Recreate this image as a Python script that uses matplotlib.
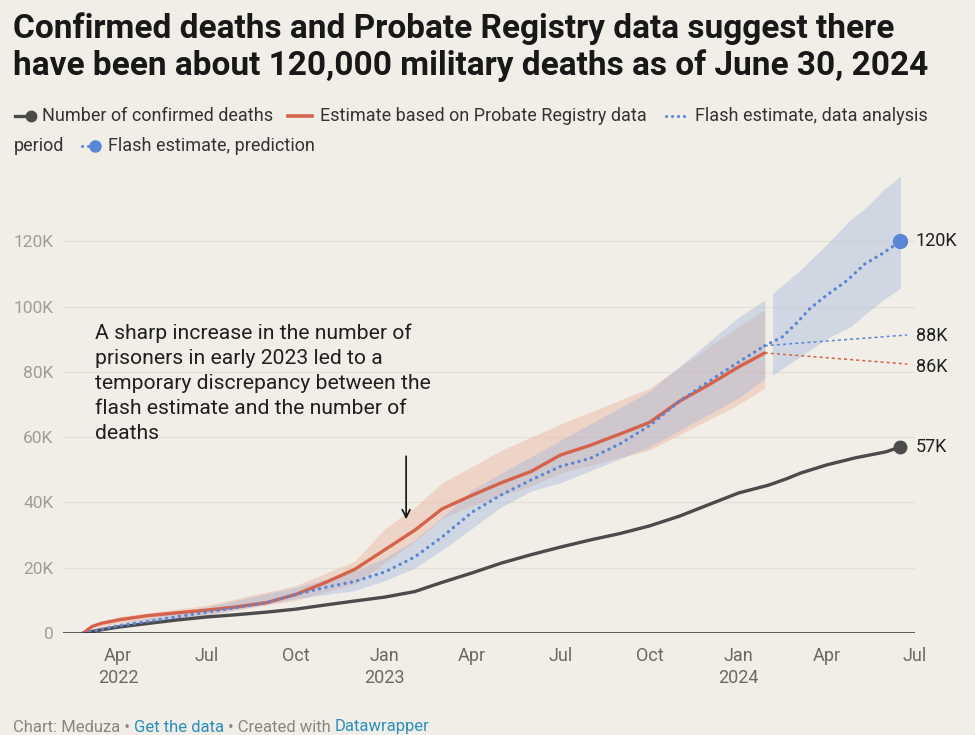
import matplotlib
matplotlib.use("Agg")
import matplotlib.pyplot as plt
import pandas as pd

# ---- data ----
confirmed_dates = ["2022-02-24", "2022-03-15", "2022-04-01", "2022-05-01", "2022-06-01", "2022-07-01",
                   "2022-08-01", "2022-09-01", "2022-10-01", "2022-11-01", "2022-12-01", "2023-01-01",
                   "2023-02-01", "2023-03-01", "2023-04-01", "2023-05-01", "2023-06-01", "2023-07-01",
                   "2023-08-01", "2023-09-01", "2023-10-01", "2023-11-01", "2023-12-01", "2024-01-01",
                   "2024-02-01", "2024-02-20", "2024-03-05", "2024-04-01", "2024-05-01", "2024-06-01",
                   "2024-06-16"]
confirmed_vals = [0, 1000, 1800, 2900, 4000, 4900, 5600, 6400, 7300, 8600, 9800, 11000,
                  12700, 15500, 18400, 21400, 24000, 26300, 28500, 30500, 32800, 35800, 39300, 42900,
                  45300, 47300, 49000, 51500, 53700, 55500, 57000]

probate_dates = ["2022-02-24", "2022-03-05", "2022-03-15", "2022-04-01", "2022-05-01", "2022-06-01",
                 "2022-07-01", "2022-08-01", "2022-09-01", "2022-10-01", "2022-11-01", "2022-12-01",
                 "2023-01-01", "2023-02-01", "2023-03-01", "2023-04-01", "2023-05-01", "2023-06-01",
                 "2023-07-01", "2023-08-01", "2023-09-01", "2023-10-01", "2023-11-01", "2023-12-01",
                 "2024-01-01", "2024-01-28"]
probate_vals = [0, 2000, 3000, 4000, 5300, 6200, 7000, 8000, 9300, 11800, 15500, 19500,
                25500, 31500, 38000, 42200, 46000, 49500, 54500, 57500, 61000, 64500, 71000, 76000,
                81500, 85800]

flash_dates = ["2022-02-24", "2022-04-01", "2022-05-01", "2022-06-01", "2022-07-01", "2022-08-01",
               "2022-09-01", "2022-10-01", "2022-11-01", "2022-12-01", "2023-01-01", "2023-02-01",
               "2023-03-01", "2023-04-01", "2023-05-01", "2023-06-01", "2023-07-01", "2023-08-01",
               "2023-09-01", "2023-10-01", "2023-11-01", "2023-12-01", "2024-01-01", "2024-01-28"]
flash_vals = [0, 2200, 3500, 5000, 6400, 7800, 9300, 11800, 14000, 15800, 18700, 23300,
              29400, 37000, 42300, 46900, 51000, 53500, 58000, 63500, 71000, 77000, 83000, 88000]

pred_dates = ["2024-01-28", "2024-02-15", "2024-03-01", "2024-03-15", "2024-04-01", "2024-04-22",
              "2024-05-10", "2024-05-27", "2024-06-16"]
pred_vals = [88000, 90700, 95000, 99500, 103500, 108000, 113000, 116000, 120000]

band_dates = ["2022-02-24", "2022-04-01", "2022-07-01", "2022-10-01", "2022-12-01", "2023-01-01",
              "2023-02-01", "2023-03-01", "2023-04-01", "2023-05-01", "2023-06-01", "2023-07-01",
              "2023-10-01", "2024-01-01", "2024-01-28"]
flash_lo = [0, 1500, 5500, 10500, 13000, 16000, 19900, 25400, 32000, 38600, 43500, 46000, 57000, 72000, 78000]
flash_hi = [0, 3000, 8000, 14000, 19000, 23000, 28500, 35500, 43800, 49000, 54000, 59000, 74000, 96800, 102000]
probate_lo = [0, 3000, 5500, 10000, 15000, 21500, 28000, 35000, 39000, 42000, 45000, 49000, 56000, 70000, 75000]
probate_hi = [0, 5000, 8500, 14500, 22000, 32000, 38500, 46000, 51000, 56000, 60000, 64000, 75000, 94000, 99000]

pred_band_dates = ["2024-02-05", "2024-03-04", "2024-04-04", "2024-04-25", "2024-05-12", "2024-05-29", "2024-06-16"]
pred_lo = [79000, 84500, 90700, 93700, 98000, 102000, 105700]
pred_hi = [104000, 111000, 120000, 126500, 130500, 135700, 140000]

y_ticks = [0, 20000, 40000, 60000, 80000, 100000, 120000]
y_labels = ["0", "20K", "40K", "60K", "80K", "100K", "120K"]
x_ticks = ["2022-04-01", "2022-07-01", "2022-10-01", "2023-01-01", "2023-04-01", "2023-07-01",
           "2023-10-01", "2024-01-01", "2024-04-01", "2024-07-01"]
x_labels = ["Apr\n2022", "Jul", "Oct", "Jan\n2023", "Apr", "Jul", "Oct", "Jan\n2024", "Apr", "Jul"]

# ---- style ----
BG = "#f1eee8"
C_BLACK = "#4b4b4b"
C_ORANGE = "#d5624a"
C_BLUE = "#5a86d5"
DOTS = (0, (0.05, 1.9))
plt.rcParams["font.family"] = ["Roboto", "DejaVu Sans"]

W, H = 975, 735
fig = plt.figure(figsize=(W / 100, H / 100), dpi=100, facecolor=BG)


def fx(x):
    return x / W


def fy(y):
    return 1 - y / H


ax = fig.add_axes([fx(63), fy(633), fx(915) - fx(63), fy(176) - fy(633)])
ax.set_facecolor(BG)

d = pd.to_datetime
ax.fill_between(d(band_dates), probate_lo, probate_hi, color="#e9a68c", alpha=0.35, lw=0)
ax.fill_between(d(band_dates), flash_lo, flash_hi, color="#9fb4da", alpha=0.38, lw=0)
ax.fill_between(d(pred_band_dates), pred_lo, pred_hi, color="#a9bcdd", alpha=0.45, lw=0)

ax.plot(d(confirmed_dates), confirmed_vals, color=C_BLACK, lw=2.4, solid_capstyle="round", zorder=5)
ax.plot(d(confirmed_dates)[-1:], confirmed_vals[-1:], "o", color=C_BLACK, ms=9, zorder=6, clip_on=False)
ax.plot(d(probate_dates), probate_vals, color=C_ORANGE, lw=2.4, solid_capstyle="round", zorder=5)
ax.plot(d(flash_dates), flash_vals, color=C_BLUE, lw=2.4, linestyle=DOTS, dash_capstyle="round", zorder=6)
ax.plot(d(pred_dates), pred_vals, color=C_BLUE, lw=2.4, linestyle=DOTS, dash_capstyle="round", zorder=6)
ax.plot(d(pred_dates)[-1:], pred_vals[-1:], "o", color=C_BLUE, ms=10, zorder=7, clip_on=False)

# label connectors
lbl_end = d("2024-06-23")
ax.plot([d(flash_dates[-1]), lbl_end], [flash_vals[-1], 91300], color=C_BLUE, lw=1.1,
        linestyle=(0, (2, 2)), zorder=4, clip_on=False)
ax.plot([d(probate_dates[-1]), lbl_end], [probate_vals[-1], 82400], color=C_ORANGE, lw=1.1,
        linestyle=(0, (2, 2)), zorder=4, clip_on=False)

# end labels
lab_x = d("2024-07-02")
for txt, yv in [("120K", pred_vals[-1]), ("88K", 91000), ("86K", 81500), ("57K", confirmed_vals[-1])]:
    ax.text(lab_x, yv, txt, fontsize=13, color="#1f1f1f", va="center", ha="left", clip_on=False)

# axes
ax.set_xlim(d("2022-02-03"), d("2024-07-01"))
ax.set_ylim(0, 140000)
ax.set_yticks(y_ticks)
ax.set_yticklabels(y_labels, fontsize=12.5, color="#a09d98")
ax.set_xticks(d(x_ticks))
ax.set_xticklabels(x_labels, fontsize=13, color="#6b6966", linespacing=1.3)
ax.tick_params(axis="both", length=0)
ax.tick_params(axis="y", pad=7)
ax.tick_params(axis="x", pad=10)
for s in ax.spines.values():
    s.set_visible(False)
for yv in y_ticks[1:]:
    ax.axhline(yv, color="#e5e1d9", lw=1, zorder=0)
ax.axhline(0, color="#333333", lw=1.1, zorder=8)

# annotation
fig.text(fx(95), fy(323), "A sharp increase in the number of\nprisoners in early 2023 led to a\n"
         "temporary discrepancy between the\nflash estimate and the number of\ndeaths",
         fontsize=15.2, color="#1f1f1f", va="top", ha="left", linespacing=1.4)
ax.annotate("", xy=(d("2023-01-23"), 34000), xytext=(d("2023-01-23"), 55000),
            arrowprops=dict(arrowstyle="->", color="#111111", lw=1.2, mutation_scale=14))

# title (baseline of the second line)
fig.text(fx(13), fy(75), "Confirmed deaths and Probate Registry data suggest there\n"
         "have been about 120,000 military deaths as of June 30, 2024",
         fontsize=24, fontweight="bold", color="#181818", va="baseline", ha="left", linespacing=1.15)

# legend (drawn by hand)
ly1, ly2 = fy(116), fy(146)
fig.add_artist(plt.Line2D([fx(15), fx(31)], [ly1, ly1], color=C_BLACK, lw=2.4, transform=fig.transFigure))
fig.add_artist(plt.Line2D([fx(31)], [ly1], marker="o", ms=7.5, color=C_BLACK, transform=fig.transFigure))
fig.text(fx(42), ly1, "Number of confirmed deaths", fontsize=13, color="#333333", va="center")
fig.add_artist(plt.Line2D([fx(288), fx(312)], [ly1, ly1], color=C_ORANGE, lw=2.6, transform=fig.transFigure))
fig.text(fx(320), ly1, "Estimate based on Probate Registry data", fontsize=13, color="#333333", va="center")
fig.add_artist(plt.Line2D([fx(666), fx(688)], [ly1, ly1], color=C_BLUE, lw=2.2, linestyle=DOTS,
                          dash_capstyle="round", transform=fig.transFigure))
fig.text(fx(695), ly1, "Flash estimate, data analysis", fontsize=13, color="#333333", va="center")
fig.text(fx(14), ly2, "period", fontsize=13, color="#333333", va="center")
fig.add_artist(plt.Line2D([fx(82), fx(95)], [ly2, ly2], color=C_BLUE, lw=2.2, linestyle=DOTS,
                          dash_capstyle="round", transform=fig.transFigure))
fig.add_artist(plt.Line2D([fx(95)], [ly2], marker="o", ms=8, color=C_BLUE, transform=fig.transFigure))
fig.text(fx(108), ly2, "Flash estimate, prediction", fontsize=13, color="#333333", va="center")

# footer with coloured links
fig.canvas.draw()
renderer = fig.canvas.get_renderer()
x0 = fx(13)
for piece, col in [("Chart: Meduza \u2022 ", "#8a8782"), ("Get the data", "#2a8fbd"),
                   (" \u2022 Created with ", "#8a8782"), ("Datawrapper", "#2a8fbd")]:
    t = fig.text(x0, fy(727), piece, fontsize=12, color=col, va="center", ha="left")
    bb = t.get_window_extent(renderer=renderer)
    x0 += bb.width / W

fig.savefig("out.png", dpi=100, facecolor=BG)
